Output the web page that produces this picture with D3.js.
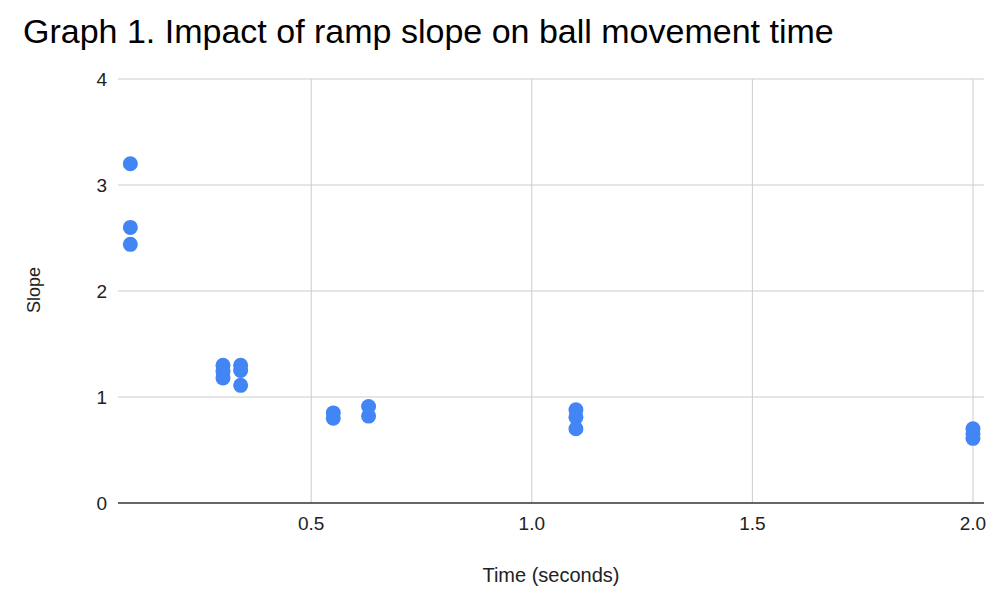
<!DOCTYPE html>
<html>
<head>
<meta charset="utf-8">
<script src="https://cdn.jsdelivr.net/npm/d3@7/dist/d3.min.js"></script>
<style>
  html, body { margin: 0; padding: 0; background: #fff; }
  svg { display: block; font-family: Arial, "Liberation Sans", sans-serif; }
</style>
</head>
<body>
<svg id="chart" width="1000" height="597"></svg>
<script>
const titleText = "Graph 1. Impact of ramp slope on ball movement time";
const xLabel = "Time (seconds)";
const yLabel = "Slope";
const timeValues  = [0.09, 0.09, 0.09, 0.30, 0.30, 0.30, 0.34, 0.34, 0.34, 0.55, 0.55, 0.63, 0.63, 1.10, 1.10, 1.10, 2.00, 2.00, 2.00];
const slopeValues = [3.20, 2.60, 2.44, 1.30, 1.24, 1.18, 1.30, 1.25, 1.11, 0.85, 0.80, 0.91, 0.82, 0.88, 0.81, 0.70, 0.70, 0.65, 0.61];
const xTicks = [0.5, 1.0, 1.5, 2.0];
const yTicks = [0, 1, 2, 3, 4];
const xDomain = [0.062, 2.025];
const yDomain = [0, 4];

const svg = d3.select("#chart");
const plotLeft = 118, plotRight = 984, plotTop = 79, plotBottom = 503;

const x = d3.scaleLinear().domain(xDomain).range([plotLeft, plotRight]);
const y = d3.scaleLinear().domain(yDomain).range([plotBottom, plotTop]);

// horizontal gridlines
svg.append("g").selectAll("line").data(yTicks.filter(d => d !== 0)).join("line")
  .attr("x1", plotLeft).attr("x2", plotRight)
  .attr("y1", d => y(d)).attr("y2", d => y(d))
  .attr("stroke", "#cccccc").attr("stroke-width", 1);

// vertical gridlines
svg.append("g").selectAll("line").data(xTicks).join("line")
  .attr("x1", d => x(d)).attr("x2", d => x(d))
  .attr("y1", plotTop).attr("y2", plotBottom)
  .attr("stroke", "#cccccc").attr("stroke-width", 1);

// baseline
svg.append("line")
  .attr("x1", plotLeft).attr("x2", plotRight)
  .attr("y1", y(0)).attr("y2", y(0))
  .attr("stroke", "#333333").attr("stroke-width", 1.5);

// y tick labels
svg.append("g").selectAll("text").data(yTicks).join("text")
  .attr("x", 107).attr("y", d => y(d))
  .attr("dy", "0.35em")
  .attr("text-anchor", "end")
  .attr("font-size", 19).attr("fill", "#222")
  .text(d => d3.format("d")(d));

// x tick labels
svg.append("g").selectAll("text").data(xTicks).join("text")
  .attr("x", d => x(d)).attr("y", 530)
  .attr("text-anchor", "middle")
  .attr("font-size", 19).attr("fill", "#222")
  .text(d => d3.format(".1f")(d));

// points
const pts = timeValues.map((t, i) => ({ t, s: slopeValues[i] }));
svg.append("g").selectAll("circle").data(pts).join("circle")
  .attr("cx", d => x(d.t)).attr("cy", d => y(d.s))
  .attr("r", 7.5)
  .attr("fill", "#4285F4");

// title
svg.append("text")
  .attr("x", 23).attr("y", 43)
  .attr("font-size", 34).attr("fill", "#000")
  .text(titleText);

// axis titles
svg.append("text")
  .attr("x", 551).attr("y", 582)
  .attr("text-anchor", "middle")
  .attr("font-size", 20).attr("fill", "#222")
  .text(xLabel);

svg.append("text")
  .attr("transform", "translate(40,290) rotate(-90)")
  .attr("text-anchor", "middle")
  .attr("font-size", 18).attr("fill", "#222")
  .text(yLabel);
</script>
</body>
</html>
